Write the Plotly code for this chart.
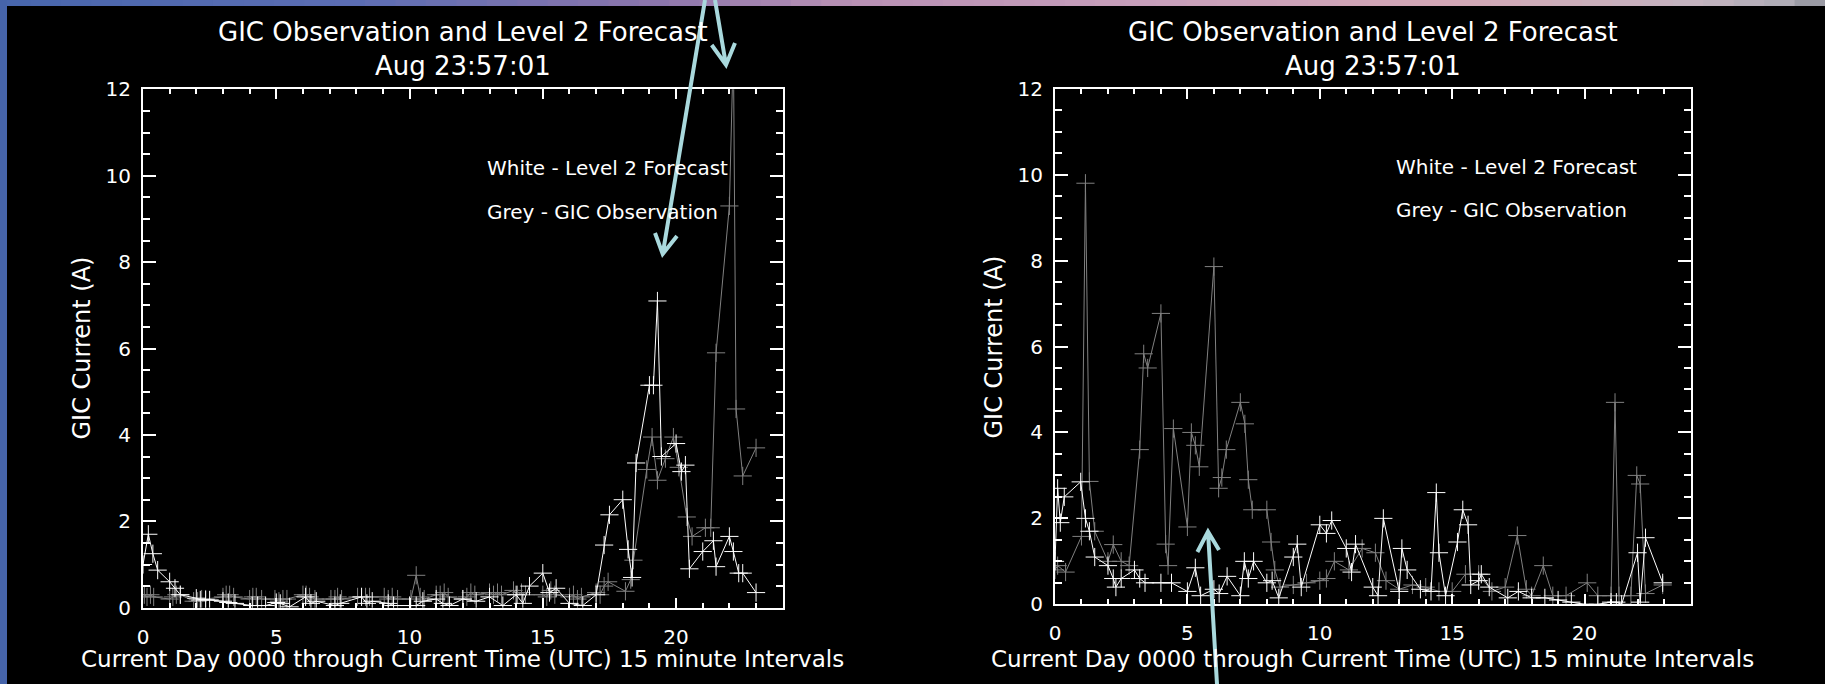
import plotly.graph_objects as go

W, H = 1825, 684

# ---------------- data ----------------
left_fc_t = [0.0, 0.2, 0.37, 0.55, 1.0, 1.2, 1.4, 2.0, 2.15, 2.35, 2.5, 3.0, 3.2, 3.45, 4.1, 4.3, 4.6, 5.0, 5.15,
             5.5, 6.1, 6.3, 6.5, 7.2, 7.4, 8.2, 8.4, 8.6, 9.2, 9.4, 10.0, 10.25, 10.5, 11.0, 11.25, 11.5, 12.0,
             12.5, 13.0, 13.5, 14.0, 14.25, 14.5, 15.0, 15.25, 15.5, 16.0, 16.5, 17.0, 17.3, 17.5, 18.0, 18.2,
             18.35, 18.5, 19.0, 19.15, 19.3, 19.45, 20.0, 20.2, 20.35, 20.5, 21.0, 21.4, 21.5, 22.0, 22.15,
             22.35, 22.5, 23.0]
left_fc_v = [1.0, 1.7, 1.25, 0.87, 0.6, 0.45, 0.3, 0.22, 0.18, 0.18, 0.18, 0.15, 0.12, 0.1, 0.05, 0.05, 0.05,
             0.12, 0.1, 0.02, 0.25, 0.1, 0.15, 0.05, 0.1, 0.25, 0.1, 0.15, 0.1, 0.05, 0.05, 0.05, 0.15, 0.2, 0.1,
             0.05, 0.2, 0.15, 0.25, 0.05, 0.3, 0.1, 0.5, 0.8, 0.35, 0.45, 0.1, 0.05, 0.3, 1.45, 2.15, 2.5, 1.35,
             0.7, 3.35, 5.15, 5.15, 7.1, 3.5, 3.8, 3.15, 3.3, 0.9, 1.3, 1.55, 0.95, 1.65, 1.3, 0.8, 0.8, 0.35]

left_obs_t = [0.05, 0.15, 0.28, 0.4, 1.0, 1.12, 1.25, 1.4, 1.9, 2.05, 2.2, 2.35, 3.0, 3.12, 3.25, 3.4, 4.0, 4.12,
              4.25, 4.45, 4.95, 5.1, 5.25, 5.4, 6.0, 6.12, 6.25, 6.45, 7.05, 7.2, 7.3, 7.45, 8.05, 8.2, 8.35, 8.5,
              9.05, 9.2, 9.35, 9.55, 10.05, 10.25, 10.4, 10.55, 11.0, 11.15, 11.3, 11.45, 12.0, 12.15, 12.3,
              12.45, 13.0, 13.15, 13.3, 13.45, 13.9, 14.05, 14.2, 14.35, 15.0, 15.15, 15.3, 15.45, 16.0, 16.15,
              16.3, 16.45, 17.0, 17.15, 17.3, 17.45, 18.1, 18.3, 18.4, 18.9, 19.1, 19.3, 19.6, 19.9, 20.1, 20.4,
              20.6, 21.1, 21.3, 21.5, 22.0, 22.15, 22.25, 22.5, 23.0]
left_obs_v = [0.3, 0.25, 0.3, 0.25, 0.2, 0.25, 0.3, 0.3, 0.15, 0.15, 0.2, 0.2, 0.25, 0.3, 0.3, 0.25, 0.2, 0.25,
              0.25, 0.2, 0.2, 0.15, 0.2, 0.2, 0.3, 0.3, 0.25, 0.2, 0.2, 0.2, 0.25, 0.2, 0.25, 0.25, 0.25, 0.25,
              0.25, 0.2, 0.25, 0.2, 0.2, 0.75, 0.25, 0.2, 0.3, 0.3, 0.35, 0.25, 0.2, 0.25, 0.35, 0.3, 0.35, 0.3,
              0.35, 0.3, 0.4, 0.3, 0.35, 0.3, 0.3, 0.25, 0.4, 0.3, 0.25, 0.3, 0.2, 0.25, 0.35, 0.3, 0.5, 0.6,
              0.38, 0.65, 1.1, 3.2, 3.95, 2.95, 3.45, 3.95, 3.25, 2.1, 1.65, 1.85, 1.85, 5.9, 9.3, 13.0, 4.6,
              3.05, 3.7]

right_obs_t = [0.0, 0.1, 0.4, 1.0, 1.15, 1.3, 1.5, 2.0, 2.2, 2.5, 2.8, 3.2, 3.35, 3.5, 4.0, 4.18, 4.27, 4.47, 5.0,
               5.15, 5.3, 5.45, 6.0, 6.18, 6.3, 6.47, 7.0, 7.17, 7.3, 7.45, 8.0, 8.16, 8.3, 8.5, 9.0, 9.5, 10.0,
               10.25, 10.55, 11.1, 11.6, 12.1, 12.5, 13.0, 13.5, 14.0, 14.5, 15.0, 15.5, 16.0, 16.5, 17.0, 17.46,
               17.8, 18.0, 18.44, 18.8, 19.3, 20.1, 20.5, 21.0, 21.15, 21.3, 21.75, 21.97, 22.1, 22.3, 22.95]
right_obs_v = [0.8, 0.9, 0.75, 1.58, 9.8, 2.86, 1.7, 1.0, 1.39, 1.0, 0.9, 3.6, 5.83, 5.5, 6.77, 1.4, 0.9, 4.09,
               1.8, 4.0, 3.7, 3.2, 7.86, 2.7, 2.95, 3.6, 4.7, 4.2, 2.9, 2.2, 2.2, 1.45, 0.8, 0.4, 0.45, 0.5, 0.55,
               0.6, 1.0, 0.8, 1.3, 1.2, 0.55, 0.35, 0.45, 0.4, 0.3, 0.3, 0.7, 0.7, 0.3, 0.4, 1.6, 0.35, 0.2, 0.9,
               0.2, 0.2, 0.5, 0.2, 0.2, 4.7, 0.2, 0.2, 3.0, 2.8, 0.25, 0.45]

right_fc_t = [0.0, 0.1, 0.2, 0.35, 0.97, 1.15, 1.3, 1.5, 2.0, 2.2, 2.3, 2.5, 3.0, 3.2, 3.4, 4.0, 4.4, 5.0, 5.3,
              5.5, 6.0, 6.2, 6.5, 7.0, 7.15, 7.3, 7.5, 8.0, 8.2, 8.45, 9.0, 9.15, 9.3, 10.0, 10.25, 10.45, 11.0,
              11.2, 11.35, 12.0, 12.2, 12.4, 13.0, 13.1, 13.3, 13.8, 14.2, 14.4, 14.5, 14.75, 15.2, 15.4, 15.6,
              15.7, 16.0, 16.1, 16.4, 17.1, 17.5, 18.0, 18.5, 19.0, 19.5, 20.0, 20.5, 21.0, 21.2, 21.4, 22.0,
              22.1, 22.3, 22.95]
right_fc_v = [1.0, 2.7, 1.9, 2.5, 2.85, 2.0, 1.7, 1.1, 0.9, 0.6, 0.4, 0.6, 0.8, 0.6, 0.5, 0.5, 0.5, 0.3, 0.85,
              0.2, 0.35, 0.25, 0.65, 0.2, 1.0, 0.6, 1.0, 0.5, 0.55, 0.15, 1.1, 1.4, 0.4, 1.85, 1.65, 1.95, 1.3,
              0.75, 1.4, 0.4, 0.2, 2.0, 0.3, 1.3, 0.8, 0.35, 0.3, 2.6, 1.2, 0.2, 1.45, 2.2, 1.85, 0.45, 0.55, 0.7,
              0.4, 0.15, 0.3, 0.15, 0.15, 0.1, 0.05, 0.0, 0.0, 0.05, 0.05, 0.0, 1.2, 0.05, 1.55, 0.5]

x_ticks = [0, 5, 10, 15, 20]
y_ticks = [0, 2, 4, 6, 8, 10, 12]
title_line1 = "GIC Observation and Level 2 Forecast"
title_line2 = "Aug 23:57:01"
x_title = "Current Day 0000 through Current Time (UTC) 15 minute Intervals"
y_title = "GIC Current (A)"
legend_white = "White - Level 2 Forecast"
legend_grey = "Grey - GIC Observation"

# ---------------- styling ----------------
FONT = "DejaVu Sans"
WHITE = "#ffffff"
GREY = "#808080"
ARROW = "#a9d9dd"

def px(x):
    return x / W

def py(y):
    return 1 - y / H

panels = [
    dict(x0=143, x1=782.7, y0=89.3, y1=607.7, fc=(left_fc_t, left_fc_v), obs=(left_obs_t, left_obs_v),
         leg_x=485, leg_y1=168, leg_y2=212, ytitle_x=81),
    dict(x0=1055, x1=1690.5, y0=88.7, y1=604.3, fc=(right_fc_t, right_fc_v), obs=(right_obs_t, right_obs_v),
         leg_x=1394, leg_y1=167, leg_y2=210, ytitle_x=993),
]

fig = go.Figure()
annotations = []
layout_axes = {}

def note(x, y, text, size, anchor="center", angle=0):
    return dict(x=px(x), y=py(y), xref="paper", yref="paper", text=text, showarrow=False,
                xanchor=anchor, yanchor="middle", textangle=angle,
                font=dict(family=FONT, size=size, color=WHITE))

for i, p in enumerate(panels):
    n = "" if i == 0 else str(i + 1)
    xa, ya = "x" + n, "y" + n
    ot, ov = p["obs"]
    ft, fv = p["fc"]
    fig.add_trace(go.Scatter(x=ot, y=ov, xaxis=xa, yaxis=ya, mode="lines+markers",
                             line=dict(color=GREY, width=1),
                             marker=dict(symbol="cross-thin", size=13, line=dict(color=GREY, width=1)),
                             showlegend=False))
    fig.add_trace(go.Scatter(x=ft, y=fv, xaxis=xa, yaxis=ya, mode="lines+markers",
                             line=dict(color=WHITE, width=1),
                             marker=dict(symbol="cross-thin", size=13, line=dict(color=WHITE, width=1)),
                             showlegend=False))
    ax_common = dict(showline=True, linecolor=WHITE, linewidth=2, mirror="allticks", ticks="inside",
                     tickcolor=WHITE, tickwidth=1.5, showgrid=False, zeroline=False, automargin=False,
                     tickfont=dict(family=FONT, size=20, color=WHITE))
    layout_axes["xaxis" + n] = dict(ax_common, domain=[px(p["x0"]), px(p["x1"])], range=[0, 24],
                                    tickvals=x_ticks, ticklen=10, anchor=ya, ticklabelstandoff=10,
                                    minor=dict(dtick=1, ticklen=5, ticks="inside", tickcolor=WHITE,
                                               tickwidth=1.5, showgrid=False))
    layout_axes["yaxis" + n] = dict(ax_common, domain=[py(p["y1"]), py(p["y0"])], range=[0, 12],
                                    tickvals=y_ticks, ticklen=13, anchor=xa, ticklabelstandoff=6,
                                    minor=dict(dtick=0.5, ticklen=6.5, ticks="inside", tickcolor=WHITE,
                                               tickwidth=1.5, showgrid=False))
    cx = (p["x0"] + p["x1"]) / 2
    annotations += [
        note(cx, 49, title_line1 + "<br>" + title_line2, 26),
        note(cx, 659, x_title, 23),
        note(p["ytitle_x"], (p["y0"] + p["y1"]) / 2, y_title, 24, angle=-90),
        note(p["leg_x"], p["leg_y1"], legend_white, 20, anchor="left"),
        note(p["leg_x"], p["leg_y2"], legend_grey, 20, anchor="left"),
    ]

# ---------------- slide background decorations ----------------
shapes = []
band = [(0, (72, 102, 172)), (350, (92, 110, 180)), (650, (140, 118, 172)), (850, (185, 145, 180)),
        (1150, (200, 160, 188)), (1450, (212, 168, 182)), (1700, (196, 180, 192)), (1805, (170, 170, 180)),
        (1825, (110, 110, 120))]
steps = 60
for k in range(steps):
    xa0 = W * k / steps
    xa1 = W * (k + 1) / steps
    xm = (xa0 + xa1) / 2
    for j in range(len(band) - 1):
        if band[j][0] <= xm <= band[j + 1][0]:
            f = (xm - band[j][0]) / (band[j + 1][0] - band[j][0])
            c = tuple(int(band[j][1][q] + f * (band[j + 1][1][q] - band[j][1][q])) for q in range(3))
            break
    shapes.append(dict(type="rect", xref="paper", yref="paper", x0=px(xa0), x1=px(xa1) + 0.001,
                       y0=py(6), y1=1, fillcolor="rgb(%d,%d,%d)" % c, line=dict(width=0), layer="below"))
shapes.append(dict(type="rect", xref="paper", yref="paper", x0=0, x1=px(7), y0=0, y1=1,
                   fillcolor="rgb(70,100,170)", line=dict(width=0), layer="below"))

def arrow(x0, y0, x1, y1, la, ra):
    path = "M %f,%f L %f,%f M %f,%f L %f,%f L %f,%f" % (
        px(x0), py(y0), px(x1), py(y1), px(la[0]), py(la[1]), px(x1), py(y1), px(ra[0]), py(ra[1]))
    return dict(type="path", xref="paper", yref="paper", path=path,
                line=dict(color=ARROW, width=4), layer="above")

shapes.append(arrow(705, 0, 662.7, 254, (655, 233), (677, 236)))
shapes.append(arrow(715, 0, 726, 65, (711.7, 45), (735, 43)))
shapes.append(arrow(1217, 684, 1208, 531.5, (1197.4, 552), (1219, 550)))

fig.update_layout(width=W, height=H, margin=dict(l=0, r=0, t=0, b=0, pad=0, autoexpand=False),
                  paper_bgcolor="black", plot_bgcolor="black", annotations=annotations, shapes=shapes,
                  **layout_axes)

fig.write_html("out.html")
